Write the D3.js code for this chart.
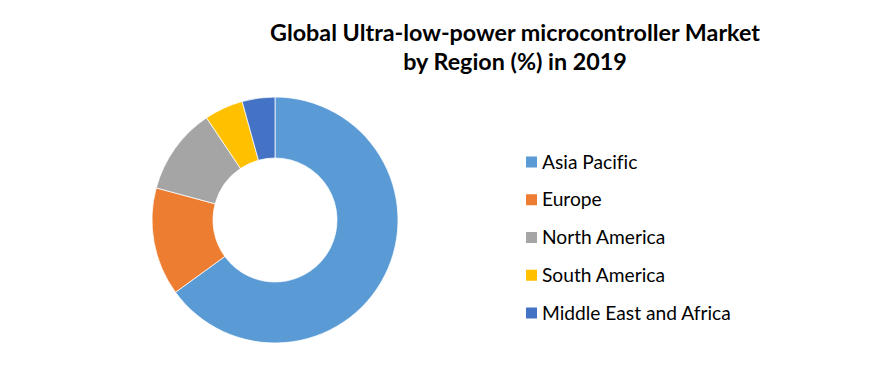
<!DOCTYPE html>
<html>
<head>
<meta charset="utf-8">
<script src="https://cdn.jsdelivr.net/npm/d3@7/dist/d3.min.js"></script>
<style>
  body { margin: 0; background: #fff; }
  text { font-family: Lato, "Open Sans", sans-serif; fill: #000; font-variant-ligatures: none; }
</style>
</head>
<body>
<div class="chart"></div>
<script>
// values (share of market, %)
const regions = ['Asia Pacific', 'Europe', 'North America', 'South America', 'Middle East and Africa'];
const shares = [65.0, 14.2, 11.4, 5.1, 4.3];
const colors = ['#5B9BD5', '#ED7D31', '#A5A5A5', '#FFC000', '#4472C4'];
const titleLines = ['Global Ultra-low-power microcontroller Market', 'by Region (%) in 2019'];

const width = 889, height = 384;

const svg = d3.select('.chart')
  .append('svg')
  .attr('width', width)
  .attr('height', height);

// title
const title = svg.append('g').attr('class', 'title');
title.selectAll('text')
  .data(titleLines)
  .enter().append('text')
  .attr('x', 515)
  .attr('y', (d, i) => 41 + i * 29)
  .attr('text-anchor', 'middle')
  .style('font-weight', 'bold')
  .style('font-size', '21px')
  .text(d => d);

// shrink title to the reference width if the font runs wide
const t0 = title.select('text').node();
const w0 = t0.getComputedTextLength();
if (w0 > 0) title.selectAll('text').style('font-size', (21 * 490 / w0) + 'px');

// donut
const color = d3.scaleOrdinal().domain(regions).range(colors);
const pie = d3.pie().sort(null).value(d => d.value);
const arc = d3.arc().innerRadius(62).outerRadius(123);

const data = regions.map((r, i) => ({ name: r, value: shares[i] }));

svg.append('g')
  .attr('transform', 'translate(275,220)')
  .selectAll('path')
  .data(pie(data))
  .enter().append('path')
  .attr('d', arc)
  .attr('fill', d => color(d.data.name))
  .attr('stroke', '#fff')
  .attr('stroke-width', 0.75);

// legend
const legend = svg.append('g').attr('class', 'legend');
const y = d3.scalePoint().domain(regions).range([162, 313]);

const item = legend.selectAll('g')
  .data(regions)
  .enter().append('g')
  .attr('transform', d => `translate(526,${y(d)})`);

item.append('rect')
  .attr('x', 0)
  .attr('y', -5.5)
  .attr('width', 11)
  .attr('height', 11)
  .attr('fill', d => color(d));

item.append('text')
  .attr('x', 16)
  .attr('dy', '0.35em')
  .style('font-size', '18px')
  .text(d => d);

// fit legend text to reference width of the longest label
const last = item.filter(d => d === 'Middle East and Africa').select('text').node();
const wl = last.getComputedTextLength();
if (wl > 0) item.selectAll('text').style('font-size', (18 * 189 / wl) + 'px');
</script>
</body>
</html>
